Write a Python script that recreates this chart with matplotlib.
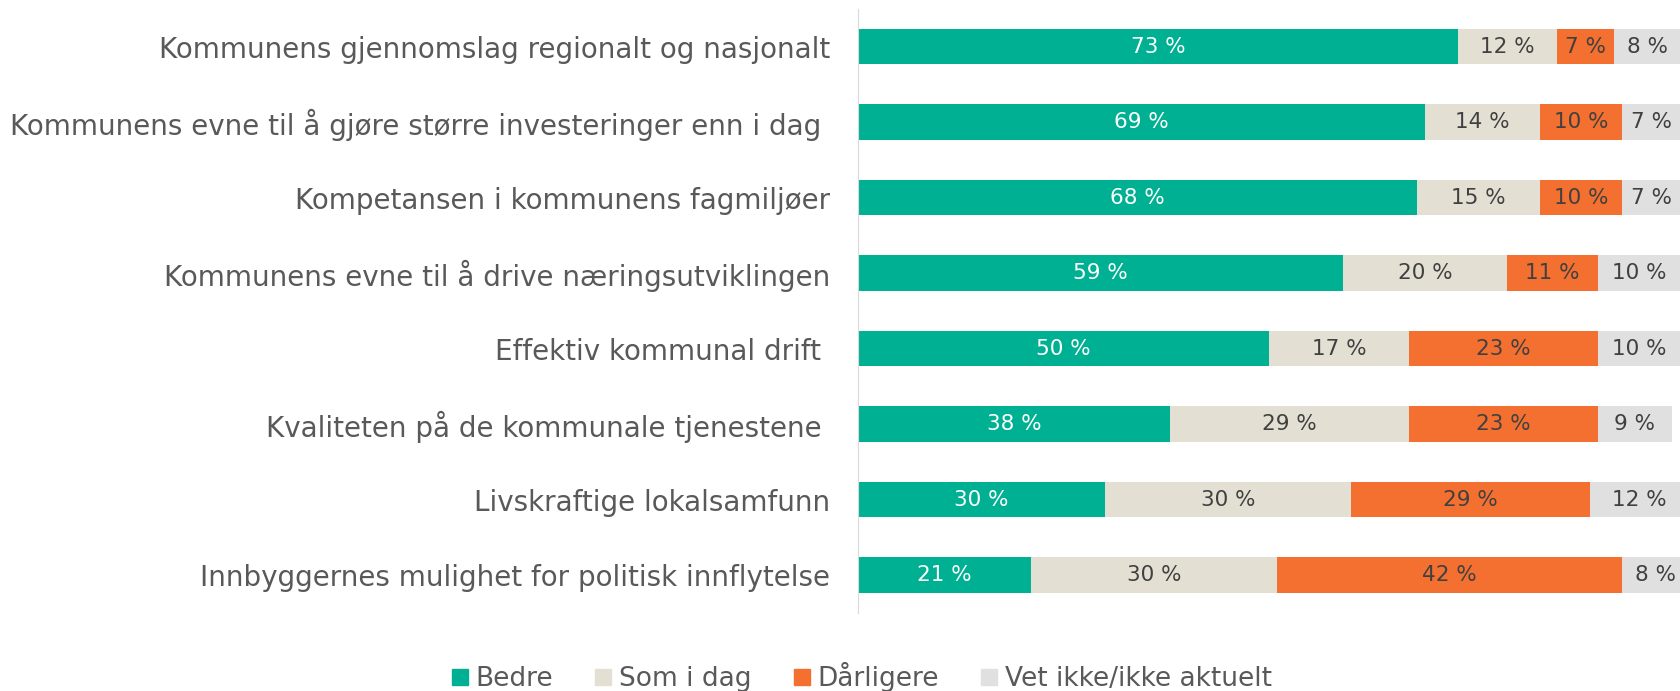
import numpy as np
import matplotlib
matplotlib.use('agg')
import matplotlib.pyplot as plt
from matplotlib.patches import Patch

categories = [
    'Kommunens gjennomslag regionalt og nasjonalt',
    'Kommunens evne til å gjøre større investeringer enn i dag ',
    'Kompetansen i kommunens fagmiljøer',
    'Kommunens evne til å drive næringsutviklingen',
    'Effektiv kommunal drift ',
    'Kvaliteten på de kommunale tjenestene ',
    'Livskraftige lokalsamfunn',
    'Innbyggernes mulighet for politisk innflytelse',
]
bedre = [73, 69, 68, 59, 50, 38, 30, 21]
som_i_dag = [12, 14, 15, 20, 17, 29, 30, 30]
darligere = [7, 10, 10, 11, 23, 23, 29, 42]
vet_ikke = [8, 7, 7, 10, 10, 9, 12, 8]

series = ['Bedre', 'Som i dag', 'Dårligere', 'Vet ikke/ikke aktuelt']
colors = ['#00B092', '#E3E0D3', '#F47030', '#E0E0E0']
text_colors = ['white', '#404040', '#404040', '#404040']

plt.rcParams['font.family'] = ['DejaVu Sans']

fig = plt.figure(figsize=(16.8, 6.91), dpi=100)
ax = fig.add_axes([0.5107, 0.1129, 0.4893, 0.8741])

y = np.arange(len(categories))
left = np.zeros(len(categories))
for vals, col, tcol in zip([bedre, som_i_dag, darligere, vet_ikke], colors, text_colors):
    vals = np.array(vals, dtype=float)
    ax.barh(y, vals, left=left, height=0.47, color=col)
    for yi, l, v in zip(y, left, vals):
        ax.text(l + v / 2, yi, f'{int(v)} %', ha='center', va='center',
                color=tcol, fontsize=15.5)
    left += vals

ax.set_xlim(0, 100)
ax.set_ylim(len(categories) - 0.5, -0.5)
ax.set_yticks(y)
ax.set_yticklabels(categories, fontsize=20, color='#595959')
ax.tick_params(axis='y', length=0, pad=20)
ax.set_xticks([])
for s in ['top', 'right', 'bottom']:
    ax.spines[s].set_visible(False)
ax.spines['left'].set_color('#D9D9D9')

handles = [Patch(color=c, label=s) for c, s in zip(colors, series)]
fig.legend(handles=handles, loc='center', bbox_to_anchor=(0.513, 0.02), ncol=4,
           frameon=False, fontsize=19, labelcolor='#595959',
           handlelength=0.6, handleheight=0.6, handletextpad=0.3, columnspacing=1.6)

fig.savefig('out.png', dpi=100)
